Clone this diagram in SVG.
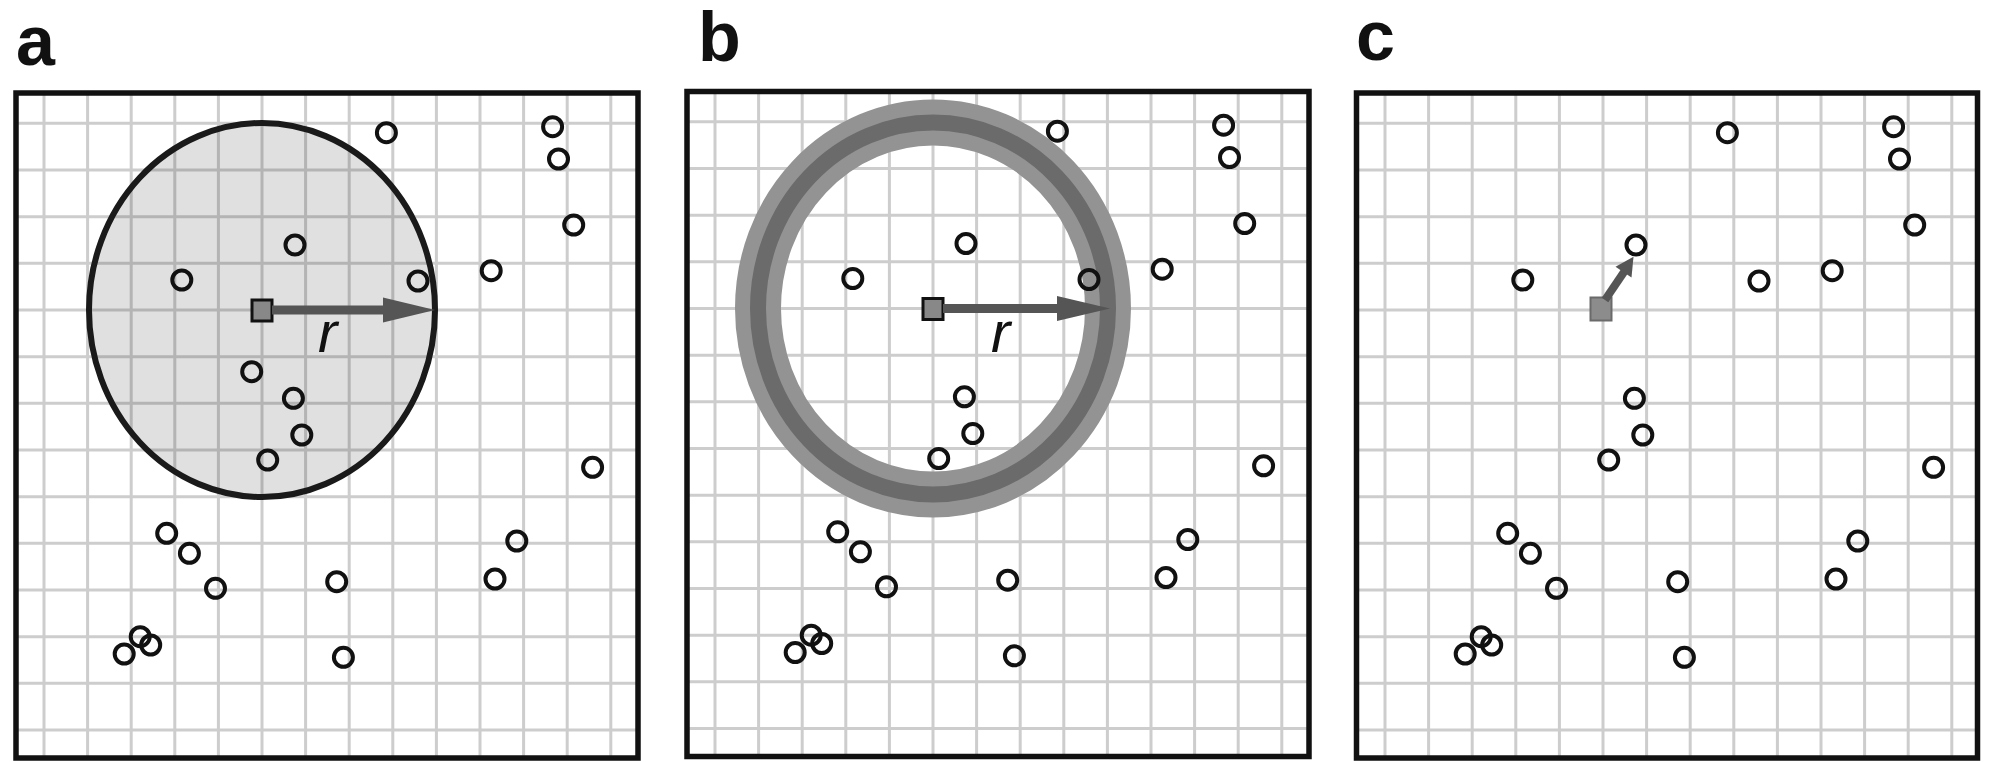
<svg xmlns="http://www.w3.org/2000/svg" xmlns:xlink="http://www.w3.org/1999/xlink" width="1993" height="762" viewBox="0 0 1993 762">
<style>
.label{font-family:"Liberation Sans",Arial,sans-serif;font-weight:bold;font-size:70px;fill:#111}
.rlab{font-family:"Liberation Sans",Arial,sans-serif;font-style:italic;font-size:58px;fill:#111}
.grid{stroke:#cdcdcd;stroke-width:3;fill:none}
.box{fill:none;stroke:#111;stroke-width:5.5}
.pt{fill:none;stroke:#111;stroke-width:4}
.shaft{stroke:#555;fill:none}
.head{fill:#555}
</style>
<defs>
<path id="gridlines" class="grid" d="M44 93V758M87.6 93V758M131.2 93V758M174.8 93V758M218.4 93V758M262 93V758M305.6 93V758M349.2 93V758M392.8 93V758M436.4 93V758M480 93V758M523.6 93V758M567.2 93V758M610.8 93V758M16 123.3H638M16 170H638M16 216.7H638M16 263.3H638M16 310H638M16 356.7H638M16 403.3H638M16 450H638M16 496.7H638M16 543.3H638M16 590H638M16 636.7H638M16 683.3H638M16 730H638"/>
<g id="points" class="pt">
<circle cx="386.4" cy="132.7" r="9.5"/>
<circle cx="552.6" cy="126.7" r="9.5"/>
<circle cx="558.5" cy="159" r="9.5"/>
<circle cx="573.7" cy="225" r="9.5"/>
<circle cx="295" cy="245" r="9.5"/>
<circle cx="181.8" cy="280" r="9.5"/>
<circle cx="418" cy="281" r="9.5"/>
<circle cx="491.2" cy="270.7" r="9.5"/>
<circle cx="293.4" cy="398.3" r="9.5"/>
<circle cx="301.8" cy="435" r="9.5"/>
<circle cx="267.7" cy="460" r="9.5"/>
<circle cx="592.6" cy="467.3" r="9.5"/>
<circle cx="166.7" cy="533.3" r="9.5"/>
<circle cx="189.4" cy="553.3" r="9.5"/>
<circle cx="215.5" cy="588.3" r="9.5"/>
<circle cx="336.7" cy="581.7" r="9.5"/>
<circle cx="516.8" cy="541" r="9.5"/>
<circle cx="495" cy="579" r="9.5"/>
<circle cx="150.7" cy="645" r="9.5"/>
<circle cx="140.2" cy="636.7" r="9.5"/>
<circle cx="124.2" cy="654" r="9.5"/>
<circle cx="343.4" cy="657.3" r="9.5"/>
</g>
</defs>

<g id="panel-a">
<text class="label" x="16" y="65">a</text>
<use xlink:href="#gridlines"/>
<ellipse id="region-a" cx="262" cy="310" rx="173" ry="187" fill="#000" fill-opacity="0.12" stroke="#1a1a1a" stroke-width="6"/>
<use id="points-a" xlink:href="#points"/>
<circle id="extra-point-a" class="pt" cx="251.7" cy="371.7" r="9.5"/>
<rect id="center-a" x="252" y="300" width="20" height="21" fill="#888" stroke="#111" stroke-width="3"/>
<text class="rlab" x="318" y="352">r</text>
<rect class="box" x="16" y="93" width="622" height="665"/>
</g>

<g id="panel-b" transform="translate(671,-1.5)">
<text class="label" x="27" y="62">b</text>
<use xlink:href="#gridlines"/>
<g id="ring-b">
<ellipse cx="262" cy="310" rx="175" ry="186" fill="none" stroke="#939393" stroke-width="46"/>
<ellipse cx="262" cy="310" rx="175" ry="186" fill="none" stroke="#6b6b6b" stroke-width="16"/>
</g>
<use id="points-b" xlink:href="#points"/>
<rect id="center-b" x="252" y="300" width="20" height="21" fill="#888" stroke="#111" stroke-width="3"/>
<text class="rlab" x="320" y="353">r</text>
<rect class="box" x="16" y="93" width="622" height="665"/>
</g>

<g id="panel-c" transform="translate(1341,0)">
<text class="label" x="15" y="60">c</text>
<use xlink:href="#gridlines"/>
<use id="points-c" xlink:href="#points"/>
<rect id="center-c" x="249.5" y="297.5" width="21" height="23" fill="#8c8c8c" stroke="#6a6a6a" stroke-width="2"/>
<rect class="box" x="15.5" y="93" width="621" height="665"/>
</g>

<g id="connectors">
<line class="shaft" x1="272" y1="310" x2="386" y2="310" stroke-width="9"/>
<polygon class="head" points="383,297.5 435,310 383,322.5"/>
<g transform="translate(671,-1.5)">
<line class="shaft" x1="272" y1="310" x2="390" y2="310" stroke-width="9"/>
<polygon class="head" points="386,297.5 439,310 386,322.5"/>
</g>
<g transform="translate(1341,0)">
<line class="shaft" x1="264" y1="300" x2="284" y2="270.5" stroke-width="8"/>
<polygon class="head" points="290.5,277.5 292.5,256.7 274.5,266.8"/>
</g>
</g>
</svg>
